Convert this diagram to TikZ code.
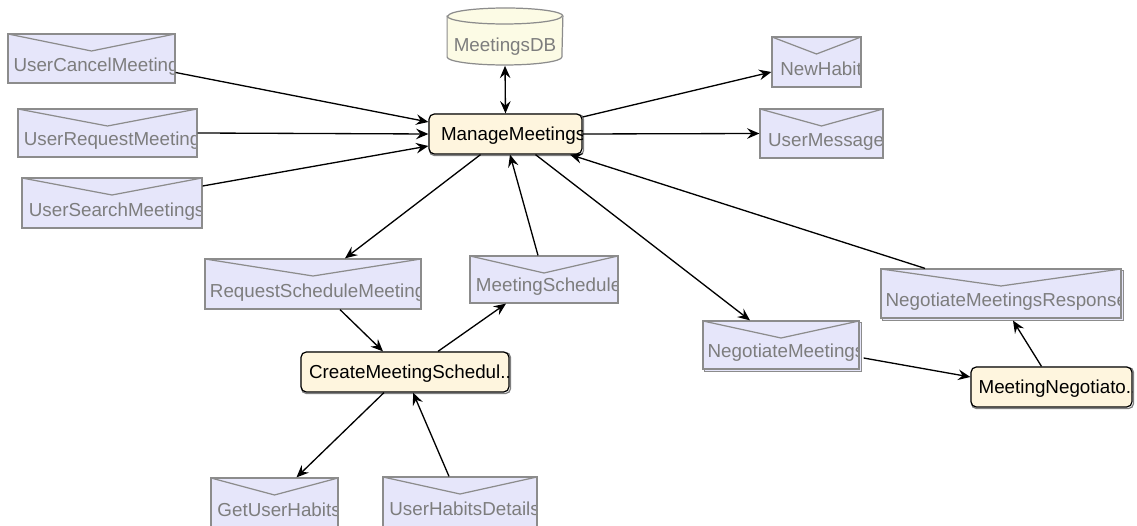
\documentclass[tikz,border=0pt]{standalone}
\usepackage{fontspec}
\setmainfont{Liberation Sans}
\usepackage{tikz}
\usetikzlibrary{arrows.meta,backgrounds,calc,positioning}
\definecolor{msgfill}{RGB}{230,230,250}
\definecolor{msgline}{RGB}{140,140,140}
\definecolor{msgtext}{RGB}{125,125,125}
\definecolor{taskfill}{RGB}{254,245,222}
\definecolor{dbfill}{RGB}{252,251,229}
\tikzset{%
	box/.style 2 args = {minimum width=#1*0.02cm, minimum height=#2*0.02cm},
	message/.style  = {draw=msgline, fill=msgfill, rectangle, line width=0.7pt, inner sep=0pt,
		path picture={%
			\draw[msgline, line width=0.7pt] (path picture bounding box.north west)
				-- ($(path picture bounding box.north)+(0,17)$) -- (path picture bounding box.north east);
			\node[anchor=base west, inner sep=0pt, text=msgtext]
				at ($(path picture bounding box.south west)+(4,-11)$) {#1};
		}}, % Message
	task/.style     = {draw, fill=taskfill, rectangle, rounded corners=3pt, line width=0.7pt, inner sep=0pt,
		path picture={%
			\node[anchor=base west, inner sep=0pt, text=black]
				at ($(path picture bounding box.west)+(7,7)$) {#1};
		}}, % Task
	store/.style    = {rectangle, inner sep=0pt,
		path picture={%
			\filldraw[draw=msgline, fill=dbfill, line width=0.7pt]
				($(path picture bounding box.north west)+(0.6,8.5)$) -- ($(path picture bounding box.south west)+(0.6,-8.5)$)
				arc[start angle=180, end angle=360, x radius=1.148cm, y radius=0.16cm]
				-- ($(path picture bounding box.north east)+(-0.6,8.5)$)
				arc[start angle=0, end angle=180, x radius=1.148cm, y radius=0.16cm] -- cycle;
			\draw[msgline, line width=0.7pt] ($(path picture bounding box.north west)+(0.6,8.5)$)
				arc[start angle=180, end angle=360, x radius=1.148cm, y radius=0.16cm];
			\node[anchor=base, inner sep=0pt, text=msgtext]
				at ($(path picture bounding box.south)+(0,-14)$) {#1};
		}}, % Data store
	flow/.style     = {->, line width=0.75pt},
}

\begin{document}
\begin{tikzpicture}[x=0.02cm, y=-0.02cm, font=\fontsize{10.7}{13}\selectfont,
	>={Stealth[length=7pt, width=6pt, inset=2.5pt]}]
	\useasboundingbox (0,0) rectangle (1137,526);
	% left column
	\node[message=UserCancelMeeting, box={167}{49}] (ucm) at (91.5,58.5) {};
	\node[message=UserRequestMeeting, box={179}{48}] (urm) at (107.5,133) {};
	\node[message=UserSearchMeetings, box={180}{50}] (usm) at (112,203) {};
	% centre
	\node[store=MeetingsDB, box={117}{58}] (db) at (505,36.5) {};
	\node[task=ManageMeetings, box={153}{40}] (mm) at (505.5,134) {};
	% right column
	\node[message=NewHabit, box={89}{50}] (nh) at (816.5,62) {};
	\node[message=UserMessage, box={123}{49}] (um) at (821.5,133.5) {};
	% scheduling
	\node[message=RequestScheduleMeeting, box={216}{50}] (rsm) at (313,284) {};
	\node[message=MeetingSchedule, box={148}{47}] (ms) at (544,279.5) {};
	\node[task=CreateMeetingSchedul..., box={208}{40}] (cms) at (405,372) {};
	\node[message=GetUserHabits, box={127}{50}] (guh) at (274.5,503) {};
	\node[message=UserHabitsDetails, box={154}{50}] (uhd) at (460,502) {};
	% negotiation
	\node[message=NegotiateMeetings, box={156}{48}] (nm) at (781,345) {};
	\node[message=NegotiateMeetingsResponse, box={240}{49}] (nmr) at (1001,293.5) {};
	\node[task=MeetingNegotiato..., box={161}{40}] (mn) at (1051.5,387) {};
	% shadows
	\begin{scope}[on background layer]
		\foreach \n in {nm,nmr}
			\draw[msgline, fill=msgfill, line width=0.7pt] ($(\n.south west)+(2,2)$) rectangle ($(\n.north east)+(2,2)$);
		\foreach \n in {mm,cms,mn}
			\draw[black!50, line width=0.7pt, rounded corners=3pt] ($(\n.south west)+(1,1)$) rectangle ($(\n.north east)+(1,1)$);
	\end{scope}
	% connectors
	\draw[flow] ($(ucm.east)+(0,14)$) -- ($(mm.west)+(0,-12)$);
	\draw[flow] (urm.east) -- (mm.west);
	\draw[flow] ($(usm.east)+(0,-17)$) -- ($(mm.west)+(0,12)$);
	\draw[flow, <->] (db.south) -- (mm.north);
	\draw[flow] ($(mm.east)+(0,-17)$) -- ($(nh.west)+(0,10)$);
	\draw[flow] (mm.east) -- (um.west);
	\draw[flow] ($(mm.south)+(-25,0)$) -- ($(rsm.north)+(32,0)$);
	\draw[flow] ($(ms.north)+(-6,0)$) -- ($(mm.south)+(4.5,0)$);
	\draw[flow] ($(mm.south)+(30,0)$) -- ($(nm.north)+(-31,0)$);
	\draw[flow] ($(nmr.north)+(-76,0)$) -- ($(mm.south)+(64.5,0)$);
	\draw[flow] ($(rsm.south)+(27,0)$) -- ($(cms.north)+(-22,0)$);
	\draw[flow] ($(cms.north)+(33,0)$) -- ($(ms.south)+(-38,0)$);
	\draw[flow] ($(cms.south)+(-21,0)$) -- ($(guh.north)+(22,0)$);
	\draw[flow] ($(uhd.north)+(-11,0)$) -- ($(cms.south)+(8,0)$);
	\draw[flow] ($(nm.east)+(4,13)$) -- ($(mn.west)+(0,-10)$);
	\draw[flow] ($(mn.north)+(-10,0)$) -- ($(nmr.south)+(12,2)$);
\end{tikzpicture}
\end{document}
